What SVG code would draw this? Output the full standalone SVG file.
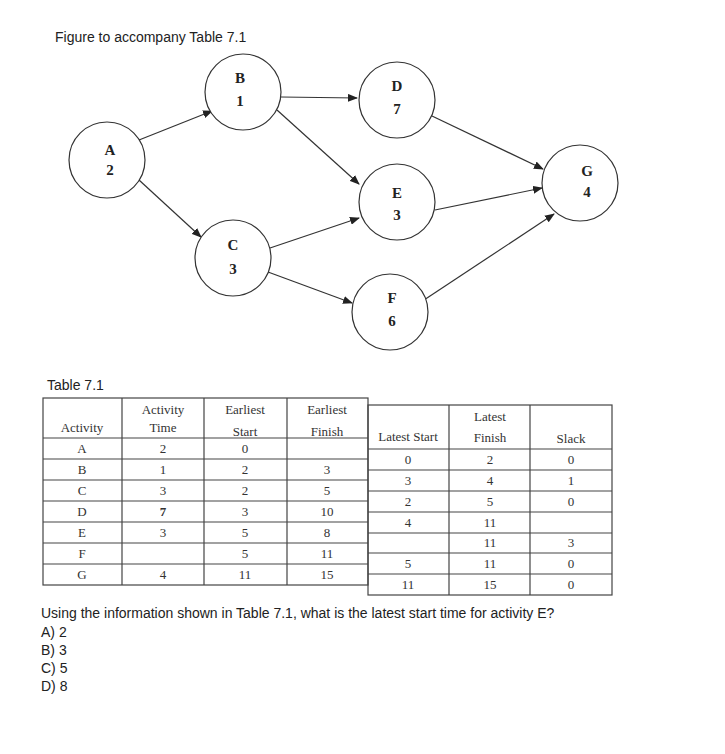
<svg xmlns="http://www.w3.org/2000/svg" width="725" height="754" viewBox="0 0 725 754">
<style>
.s{font-family:"Liberation Sans",Arial,sans-serif;font-size:14px;fill:#222}
.n{fill:#fff;stroke:#333;stroke-width:1.2}
.nt{font-family:"Liberation Serif",serif;font-size:15px;font-weight:bold;text-anchor:middle;fill:#222}
.e{stroke:#333;stroke-width:1.2;fill:none;marker-end:url(#a)}
.t{font-family:"Liberation Serif",serif;font-size:13px;text-anchor:middle;fill:#333}
.g{stroke:#444;stroke-width:1.2;fill:none}
</style>
<defs><marker id="a" markerWidth="10" markerHeight="8" refX="9" refY="4" orient="auto" markerUnits="userSpaceOnUse"><path d="M0,0L10,4L0,8z" fill="#222"/></marker></defs>
<rect width="725" height="754" fill="#fff"/>
<text class="s" x="55" y="42">Figure to accompany Table 7.1</text>
<g id="edges">
<line class="e" x1="139" y1="140" x2="212" y2="111"/>
<line class="e" x1="139" y1="180" x2="201" y2="237"/>
<line class="e" x1="281" y1="97" x2="357" y2="98"/>
<line class="e" x1="277" y1="110" x2="359" y2="184"/>
<line class="e" x1="270" y1="248" x2="359" y2="218"/>
<line class="e" x1="268" y1="272" x2="352" y2="303"/>
<line class="e" x1="432" y1="116" x2="543" y2="169"/>
<line class="e" x1="435" y1="210" x2="542" y2="188"/>
<line class="e" x1="424" y1="300" x2="554" y2="214"/>
</g>
<g id="A"><circle class="n" cx="107" cy="160" r="38"/><text class="nt" x="110" y="155">A</text><text class="nt" x="110" y="175">2</text></g>
<g id="B"><circle class="n" cx="243" cy="92" r="38"/><text class="nt" x="240" y="83">B</text><text class="nt" x="240" y="106">1</text></g>
<g id="C"><circle class="n" cx="233" cy="258" r="38"/><text class="nt" x="233" y="250">C</text><text class="nt" x="233" y="274">3</text></g>
<g id="D"><circle class="n" cx="397" cy="100" r="38"/><text class="nt" x="397" y="91">D</text><text class="nt" x="397" y="114">7</text></g>
<g id="E"><circle class="n" cx="397" cy="202" r="38"/><text class="nt" x="397" y="198">E</text><text class="nt" x="397" y="220">3</text></g>
<g id="F"><circle class="n" cx="390" cy="312" r="38"/><text class="nt" x="392" y="303">F</text><text class="nt" x="392" y="326">6</text></g>
<g id="G"><circle class="n" cx="580" cy="183" r="38"/><text class="nt" x="587" y="176">G</text><text class="nt" x="587" y="197">4</text></g>
<text class="s" x="47" y="390">Table 7.1</text>
<g id="table">
<rect class="g" x="43" y="398" width="325" height="187"/>
<line class="g" x1="122" y1="398" x2="122" y2="585"/><line class="g" x1="204" y1="398" x2="204" y2="585"/><line class="g" x1="287" y1="398" x2="287" y2="585"/>
<line class="g" x1="43" y1="438" x2="368" y2="438"/>
<line class="g" x1="43" y1="459" x2="368" y2="459"/><line class="g" x1="43" y1="480" x2="368" y2="480"/><line class="g" x1="43" y1="501" x2="368" y2="501"/><line class="g" x1="43" y1="522" x2="368" y2="522"/><line class="g" x1="43" y1="543" x2="368" y2="543"/><line class="g" x1="43" y1="564" x2="368" y2="564"/>
<rect class="g" x="368" y="405" width="244" height="190"/>
<line class="g" x1="449" y1="405" x2="449" y2="595"/><line class="g" x1="530" y1="405" x2="530" y2="595"/>
<line class="g" x1="368" y1="449" x2="612" y2="449"/>
<line class="g" x1="368" y1="470" x2="612" y2="470"/><line class="g" x1="368" y1="491" x2="612" y2="491"/><line class="g" x1="368" y1="512" x2="612" y2="512"/><line class="g" x1="368" y1="533" x2="612" y2="533"/><line class="g" x1="368" y1="553" x2="612" y2="553"/><line class="g" x1="368" y1="574" x2="612" y2="574"/>
<text class="t" x="82" y="432">Activity</text>
<text class="t" x="163" y="414">Activity</text><text class="t" x="163" y="432">Time</text>
<text class="t" x="245" y="414">Earliest</text><text class="t" x="245" y="436">Start</text>
<text class="t" x="327" y="414">Earliest</text><text class="t" x="327" y="436">Finish</text>
<text class="t" x="408" y="441">Latest Start</text>
<text class="t" x="490" y="421">Latest</text><text class="t" x="490" y="442">Finish</text>
<text class="t" x="571" y="443">Slack</text>
<g font-family="Liberation Serif,serif" font-size="13" text-anchor="middle" fill="#333">
<text x="82" y="453">A</text><text x="82" y="474">B</text><text x="82" y="495">C</text><text x="82" y="516">D</text><text x="82" y="537">E</text><text x="82" y="558">F</text><text x="82" y="579">G</text>
<text x="163" y="453">2</text><text x="163" y="474">1</text><text x="163" y="495">3</text><text x="163" y="516" font-weight="bold">7</text><text x="163" y="537">3</text><text x="163" y="579">4</text>
<text x="245" y="453">0</text><text x="245" y="474">2</text><text x="245" y="495">2</text><text x="245" y="516">3</text><text x="245" y="537">5</text><text x="245" y="558">5</text><text x="245" y="579">11</text>
<text x="327" y="474">3</text><text x="327" y="495">5</text><text x="327" y="516">10</text><text x="327" y="537">8</text><text x="327" y="558">11</text><text x="327" y="579">15</text>
<text x="408" y="464">0</text><text x="408" y="485">3</text><text x="408" y="506">2</text><text x="408" y="527">4</text><text x="408" y="568">5</text><text x="408" y="589">11</text>
<text x="490" y="464">2</text><text x="490" y="485">4</text><text x="490" y="506">5</text><text x="490" y="527">11</text><text x="490" y="547">11</text><text x="490" y="568">11</text><text x="490" y="589">15</text>
<text x="571" y="464">0</text><text x="571" y="485">1</text><text x="571" y="506">0</text><text x="571" y="547">3</text><text x="571" y="568">0</text><text x="571" y="589">0</text>
</g>
</g>
<text class="s" x="41" y="618">Using the information shown in Table 7.1, what is the latest start time for activity E?</text>
<text class="s" x="41" y="637">A) 2</text>
<text class="s" x="41" y="655">B) 3</text>
<text class="s" x="41" y="673">C) 5</text>
<text class="s" x="41" y="691">D) 8</text>
</svg>
